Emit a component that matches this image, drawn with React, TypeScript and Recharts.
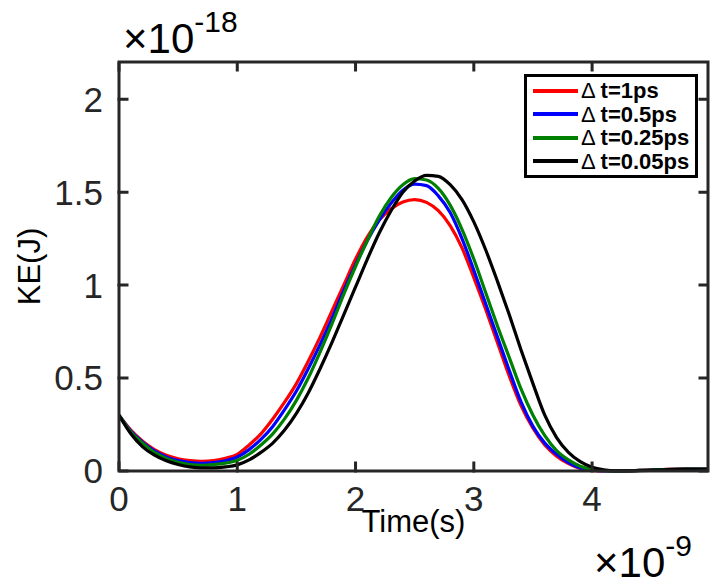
import { LineChart, Line, XAxis, YAxis, Legend } from 'recharts';

// time in ns (axis ×10^-9), kinetic energy in units of 1e-18 J
const times = [
  0, 0.1, 0.2, 0.3, 0.4, 0.5, 0.6, 0.7, 0.8, 0.9,
  1.0, 1.1, 1.2, 1.3, 1.4, 1.5, 1.6, 1.7, 1.8, 1.9,
  2.0, 2.1, 2.2, 2.3, 2.4, 2.5, 2.6, 2.7, 2.8, 2.9,
  3.0, 3.1, 3.2, 3.3, 3.4, 3.5, 3.6, 3.7, 3.8, 3.9,
  4.0, 4.1, 4.2, 4.4, 4.6, 4.8, 4.98,
];

const ke1ps = [
  0.30, 0.22, 0.16, 0.115, 0.085, 0.066, 0.056, 0.052, 0.056, 0.068,
  0.09, 0.14, 0.2, 0.28, 0.37, 0.47, 0.59, 0.72, 0.86, 1.0,
  1.14, 1.26, 1.35, 1.41, 1.447, 1.46, 1.445, 1.4, 1.32, 1.2,
  1.04, 0.87, 0.69, 0.51, 0.35, 0.23, 0.14, 0.08, 0.04, 0.014,
  0.003, 0, 0, 0.003, 0.008, 0.011, 0.01,
];

const ke05ps = [
  0.30, 0.215, 0.155, 0.108, 0.076, 0.056, 0.045, 0.041, 0.045, 0.055,
  0.075, 0.115, 0.17, 0.24, 0.33, 0.43, 0.55, 0.68, 0.82, 0.97,
  1.11, 1.24, 1.35, 1.44, 1.51, 1.543, 1.535, 1.48, 1.39, 1.25,
  1.08, 0.9, 0.72, 0.54, 0.37, 0.24, 0.15, 0.09, 0.045, 0.016,
  0.004, 0, 0, 0.003, 0.008, 0.01, 0.01,
];

const ke025ps = [
  0.30, 0.21, 0.15, 0.10, 0.068, 0.047, 0.035, 0.031, 0.034, 0.042,
  0.058, 0.09, 0.14, 0.2, 0.28, 0.38, 0.5, 0.64, 0.79, 0.95,
  1.1, 1.24, 1.37, 1.47, 1.54, 1.573, 1.565, 1.52, 1.43, 1.3,
  1.14, 0.96, 0.78, 0.61, 0.44, 0.3, 0.19, 0.11, 0.06, 0.026,
  0.008, 0.002, 0, 0.003, 0.008, 0.01, 0.01,
];

const ke005ps = [
  0.30, 0.2, 0.13, 0.085, 0.055, 0.035, 0.022, 0.017, 0.017, 0.022,
  0.033, 0.06, 0.1, 0.15, 0.22, 0.31, 0.42, 0.55, 0.69, 0.84,
  0.99, 1.14, 1.28, 1.4, 1.5, 1.56, 1.59, 1.585, 1.54, 1.46,
  1.34, 1.19, 1.02, 0.84, 0.65, 0.47, 0.3, 0.18, 0.1, 0.05,
  0.02, 0.006, 0.001, 0.002, 0.006, 0.009, 0.009,
];

const xTicks = [0, 1, 2, 3, 4];
const yTicks = [0, 0.5, 1, 1.5, 2];
const X_MAX = 4.98;
const Y_MAX = 2.2;

const series = [
  { key: 'a', name: 't=1ps', color: '#FF0000' },
  { key: 'b', name: 't=0.5ps', color: '#0000FF' },
  { key: 'c', name: 't=0.25ps', color: '#008000' },
  { key: 'd', name: 't=0.05ps', color: '#000000' },
];

const data = times.map((t, i) => ({
  t, a: ke1ps[i], b: ke05ps[i], c: ke025ps[i], d: ke005ps[i],
}));

const AX = '#262626';
const FONT = '"Liberation Sans", Arial, Helvetica, sans-serif';
const axisLine = { stroke: AX, strokeWidth: 3 };
const tickStyle = { fill: AX, fontSize: 35, fontFamily: FONT };

// plot box (must agree with the chart margins / axis sizes below)
const L = 119, R = 708, T = 62, B = 471;
const TICK = 8;
const px = (v: number) => L + (v / X_MAX) * (R - L);
const py = (v: number) => B - (v / Y_MAX) * (B - T);

function LegendBox() {
  return (
    <div style={{
      border: '3px solid #000', background: '#fff', boxSizing: 'border-box',
      width: 174, height: 104, padding: '2px 0 0 6px', fontFamily: FONT,
    }}>
      {series.map((s) => (
        <div key={s.key} style={{ display: 'flex', alignItems: 'center', height: 23.5 }}>
          <span style={{ width: 45, height: 4, background: s.color, display: 'inline-block' }} />
          <span style={{ fontSize: 22, marginLeft: 3, color: '#000', lineHeight: '23px', whiteSpace: 'nowrap' }}>
            Δ <b>{s.name}</b>
          </span>
        </div>
      ))}
    </div>
  );
}

// Matlab box: top/right edges plus inward ticks on all four sides
function framePath() {
  let d = `M${L},${T} L${R},${T} L${R},${B}`;
  xTicks.forEach((v) => {
    d += ` M${px(v)},${B} L${px(v)},${B - TICK} M${px(v)},${T} L${px(v)},${T + TICK}`;
  });
  yTicks.forEach((v) => {
    d += ` M${L},${py(v)} L${L + TICK},${py(v)} M${R},${py(v)} L${R - TICK},${py(v)}`;
  });
  return d;
}

export default function App() {
  return (
    <div style={{ position: 'relative', width: 712, height: 584, background: '#fff' }}>
      <style>{'body{margin:0}'}</style>
      <LineChart width={712} height={584} data={data}
        margin={{ top: T, right: 712 - R, bottom: 0, left: 0 }}>
        <XAxis xAxisId="bottom" dataKey="t" type="number" domain={[0, X_MAX]} ticks={xTicks}
          allowDataOverflow height={584 - B} tickSize={0} tickMargin={15}
          axisLine={axisLine} tickLine={false} tick={tickStyle}
          label={({ viewBox }: any) => (
            <text x={viewBox.x + viewBox.width / 2} y={532} textAnchor="middle"
              fontSize={31} fontFamily={FONT} fill="#000">Time(s)</text>
          )} />
        <YAxis yAxisId="left" type="number" domain={[0, Y_MAX]} ticks={yTicks} width={L}
          tickSize={0} tickMargin={16} axisLine={axisLine} tickLine={false} tick={tickStyle}
          label={({ viewBox }: any) => (
            <text x={40} y={viewBox.y + viewBox.height / 2} textAnchor="middle"
              transform={`rotate(-90, 40, ${viewBox.y + viewBox.height / 2})`}
              fontSize={31} fontFamily={FONT} fill="#000">KE(J)</text>
          )} />
        {series.map((s) => (
          <Line key={s.key} xAxisId="bottom" yAxisId="left" type="monotone" dataKey={s.key}
            name={s.name} stroke={s.color} strokeWidth={3.2} dot={false}
            isAnimationActive={false} />
        ))}
        <Legend layout="horizontal" verticalAlign="middle" align="center"
          wrapperStyle={{ top: 74, left: 524, width: 174, height: 104 }}
          content={() => <LegendBox />} />
      </LineChart>
      <svg width={712} height={584} style={{ position: 'absolute', left: 0, top: 0, pointerEvents: 'none' }}>
        <path d={framePath()} fill="none" stroke={AX} strokeWidth={3} strokeLinecap="square" />
        <text x={123} y={53} fontFamily={FONT} fill="#000">
          <tspan fontSize={42}>×10</tspan>
          <tspan fontSize={30} dy={-21}>-18</tspan>
        </text>
        <text x={594} y={577} fontFamily={FONT} fill="#000">
          <tspan fontSize={42}>×10</tspan>
          <tspan fontSize={30} dy={-21}>-9</tspan>
        </text>
      </svg>
    </div>
  );
}
